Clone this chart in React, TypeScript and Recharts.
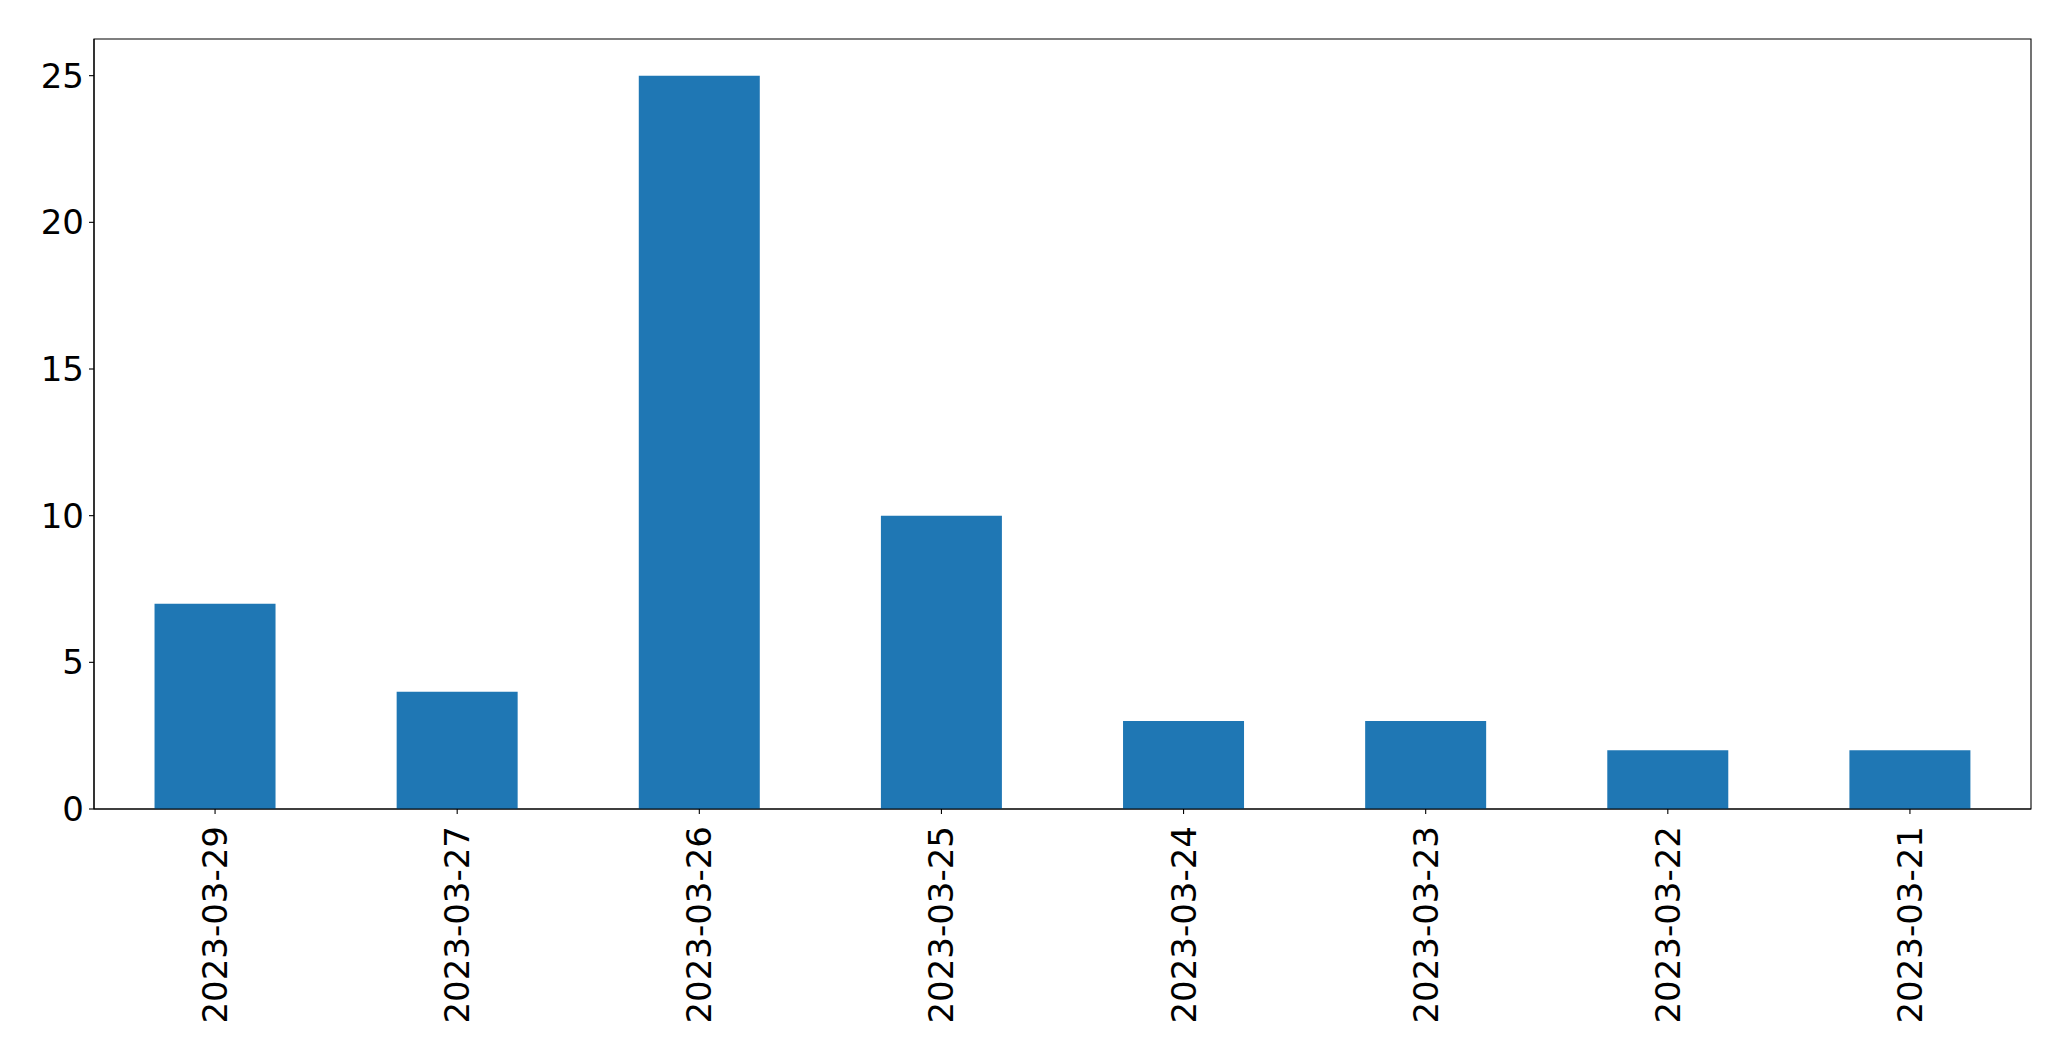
import { BarChart, Bar, XAxis, YAxis, ReferenceArea } from "recharts";

const dates = [
  "2023-03-29",
  "2023-03-27",
  "2023-03-26",
  "2023-03-25",
  "2023-03-24",
  "2023-03-23",
  "2023-03-22",
  "2023-03-21",
];
const counts = [7, 4, 25, 10, 3, 3, 2, 2];
const yTicks = [0, 5, 10, 15, 20, 25];
const yMax = 26.25;

const data = dates.map((date, i) => ({ date, count: counts[i] }));

const FONT = "'DejaVu Sans', sans-serif";

function DateTick({ x, y, payload }: any) {
  return (
    <g transform={`translate(${x},${y + 10})`}>
      <text
        transform="rotate(-90)"
        textAnchor="end"
        dominantBaseline="central"
        fill="#000"
        fontSize={34}
        fontFamily={FONT}
      >
        {payload.value}
      </text>
    </g>
  );
}

export default function App() {
  return (
    <div style={{ position: "absolute", left: 0, top: 0, background: "#fff" }}>
      <BarChart
        width={2071}
        height={1061}
        data={data}
        barCategoryGap="25%"
        margin={{ top: 39, right: 40, bottom: 0, left: 0 }}
        style={{ fontFamily: FONT }}
      >
        <XAxis
          dataKey="date"
          height={252}
          tick={<DateTick />}
          tickSize={5}
          stroke="#000"
          axisLine={{ stroke: "#000", strokeWidth: 1.1 }}
          tickLine={{ stroke: "#000", strokeWidth: 1.1 }}
          interval={0}
        />
        <YAxis
          width={94}
          domain={[0, yMax]}
          ticks={yTicks}
          tickSize={5}
          tickMargin={5}
          stroke="#000"
          tick={{ fill: "#000", fontSize: 34, fontFamily: FONT }}
          axisLine={{ stroke: "#000", strokeWidth: 1.1 }}
          tickLine={{ stroke: "#000", strokeWidth: 1.1 }}
        />
        <Bar dataKey="count" fill="#1f77b4" isAnimationActive={false} />
        <ReferenceArea
          x1={dates[0]}
          x2={dates[dates.length - 1]}
          y1={0}
          y2={yMax}
          fill="none"
          fillOpacity={0}
          stroke="#000"
          strokeWidth={1.1}
          strokeOpacity={1}
        />
      </BarChart>
    </div>
  );
}
